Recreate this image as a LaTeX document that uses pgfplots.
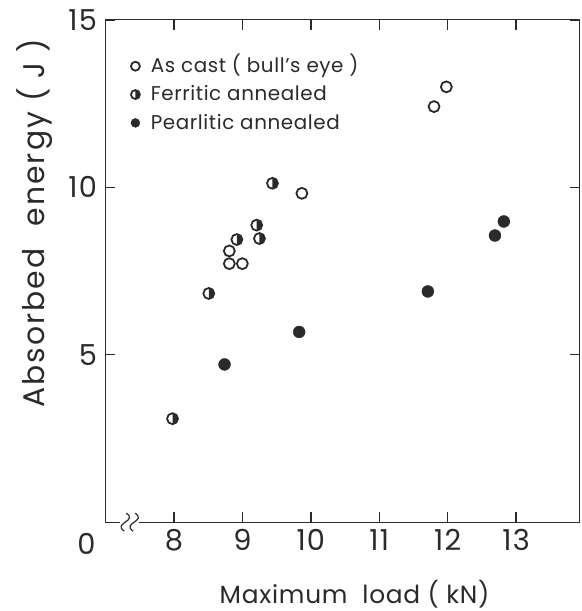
\documentclass[border=0pt]{standalone}
\usepackage{pgfplots}
\pgfplotsset{compat=1.18}
\usetikzlibrary{calc}
\usepackage{fontspec}
\setmainfont{Poppins}
\definecolor{ink}{HTML}{2A2A2A}
\pgfdeclareplotmark{halfcirc}{%
  \pgfpathmoveto{\pgfpoint{0pt}{\pgfplotmarksize}}%
  \pgfpatharc{90}{-90}{\pgfplotmarksize}%
  \pgfpathclose
  \pgfusepathqfill
  \pgfpathcircle{\pgfpointorigin}{\pgfplotmarksize}%
  \pgfusepathqstroke
}
\begin{document}
\begin{tikzpicture}
\begin{axis}[
  scale only axis, width=477pt, height=505pt,
  xmin=7, xmax=13.93, ymin=0, ymax=15,
  xtick={8,9,10,11,12,13}, ytick={5,10,15},
  tick align=inside, major tick length=10pt,
  axis line style={line width=1.2pt, draw=ink},
  major tick style={line width=1.5pt, draw=ink},
  tick label style={font=\fontsize{29}{31}\selectfont\addfontfeature{LetterSpace=4}, text=ink},
  xticklabel style={yshift=-4pt},
  yticklabel style={xshift=-5pt},
  /pgf/number format/assume math mode=true,
  legend style={draw=none, fill=none, at={(axis cs:7.37,12.77)}, anchor=west,
    inner sep=0pt,
    font=\fontsize{20}{22}\selectfont\addfontfeature{LetterSpace=3}, text=ink, row sep=9pt,
    cells={inner sep=0pt, text height=14pt, text depth=4pt},
    /tikz/every odd column/.append style={column sep=9pt}},
  legend image code/.code={\draw[#1, mark size=4.5pt] plot coordinates {(0pt,0pt)};},
  legend cell align=left,
  clip=false,
]
\addplot[only marks, mark=o, mark size=5.5pt, line width=1.8pt, ink]
  coordinates {(11.80,12.41) (11.98,13.0) (9.87,9.82) (8.81,8.10) (8.81,7.72) (9.00,7.72)};
\addlegendentry{As cast ( bull's eye )}
\addplot[only marks, mark=halfcirc, mark size=5.5pt, line width=1.8pt, ink, fill=ink]
  coordinates {(8.92,8.44) (9.21,8.87) (9.25,8.47) (8.51,6.83) (7.98,3.09) (9.44,10.12)};
\addlegendentry{Ferritic annealed}
\addplot[only marks, mark=*, mark size=6pt, ink, mark options={fill=ink, draw=ink}]
  coordinates {(8.74,4.71) (9.83,5.68) (11.71,6.89) (12.69,8.56) (12.82,8.98)};
\addlegendentry{Pearlitic annealed}
\draw[line width=1.5pt, ink] (axis cs:8,0) -- (axis cs:8,0.3) (axis cs:9,0) -- (axis cs:9,0.3)
  (axis cs:10,0) -- (axis cs:10,0.3) (axis cs:11,0) -- (axis cs:11,0.3)
  (axis cs:12,0) -- (axis cs:12,0.3) (axis cs:13,0) -- (axis cs:13,0.3);
\draw[line width=1.5pt, ink] (axis cs:8,15) -- (axis cs:8,14.7) (axis cs:9,15) -- (axis cs:9,14.7)
  (axis cs:10,15) -- (axis cs:10,14.7) (axis cs:11,15) -- (axis cs:11,14.7)
  (axis cs:12,15) -- (axis cs:12,14.7) (axis cs:13,15) -- (axis cs:13,14.7);
\draw[line width=1.5pt, ink] (axis cs:7,5) -- (axis cs:7.145,5) (axis cs:7,10) -- (axis cs:7.145,10)
  (axis cs:13.93,5) -- (axis cs:13.785,5) (axis cs:13.93,10) -- (axis cs:13.785,10);
\node[font=\fontsize{29}{31}\selectfont, text=ink] at ($(rel axis cs:0,0)+(-19pt,-22pt)$) {0};
\node[font=\fontsize{25}{27}\selectfont\addfontfeature{LetterSpace=3}, text=ink] at ($(rel axis cs:0.5,0)+(12pt,-72pt)$) {Maximum\hspace{0.3em} load ( kN)};
\node[rotate=90, font=\fontsize{30}{32}\selectfont\addfontfeature{LetterSpace=7}, text=ink] at ($(rel axis cs:0,0.5)+(-71pt,48pt)$) {Absorbed\hspace{0.4em} energy ( J )};
\fill[white] ($(axis cs:7.29,0)+(-5pt,-1.5pt)$) rectangle ($(axis cs:7.42,0)+(5pt,1.5pt)$);
\draw[line width=1.2pt, ink] ($(axis cs:7.29,0)+(-1pt,-9pt)$) .. controls ($(axis cs:7.29,0)+(-13pt,-1pt)$) and ($(axis cs:7.29,0)+(13pt,1pt)$) .. ($(axis cs:7.29,0)+(1pt,9pt)$);
\draw[line width=1.2pt, ink] ($(axis cs:7.42,0)+(-1pt,-9pt)$) .. controls ($(axis cs:7.42,0)+(-13pt,-1pt)$) and ($(axis cs:7.42,0)+(13pt,1pt)$) .. ($(axis cs:7.42,0)+(1pt,9pt)$);
\path ($(rel axis cs:0,0)+(-106pt,-86pt)$) ($(rel axis cs:1,1)+(2pt,20pt)$);
\end{axis}
\end{tikzpicture}
\end{document}
